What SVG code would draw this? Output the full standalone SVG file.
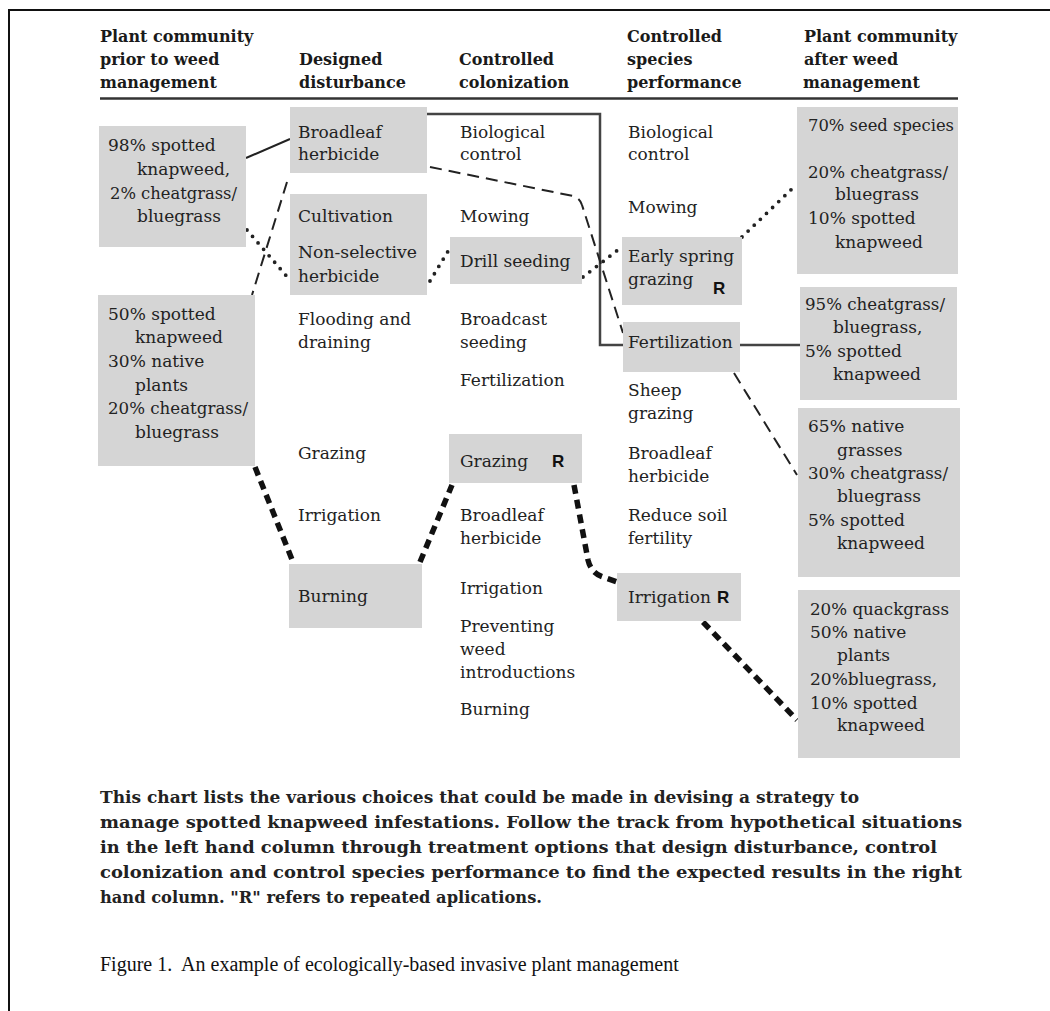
<svg xmlns="http://www.w3.org/2000/svg" width="1050" height="1011" viewBox="0 0 1050 1011">
<style>
  .bg{fill:#ffffff}
  .frame{stroke:#111;stroke-width:2;fill:none}
  .rule{stroke:#333;stroke-width:2.5}
  .box{fill:#d5d5d5}
  .hd{font-family:"DejaVu Serif",serif;font-weight:bold;font-size:16px;fill:#1a1a1a}
  .t{font-family:"DejaVu Serif",serif;font-size:17px;fill:#222}
  .r{font-family:"Liberation Sans",Arial,sans-serif;font-weight:bold;font-size:17px;fill:#111}
  .cap{font-family:"DejaVu Serif",serif;font-weight:bold;font-size:16px;fill:#222}
  .fig{font-family:"Liberation Serif","Times New Roman",serif;font-size:20px;fill:#111;white-space:pre}
  .solid{fill:none;stroke:#222;stroke-width:2}
  .solidg{fill:none;stroke:#444;stroke-width:2.5}
  .dash{fill:none;stroke:#222;stroke-width:2;stroke-dasharray:12 7}
  .dot{fill:none;stroke:#222;stroke-width:3.8;stroke-linecap:round;stroke-dasharray:0 8.5}
  .heavy{fill:none;stroke:#111;stroke-width:5.5;stroke-dasharray:9 6}
</style>
<rect class="bg" x="0" y="0" width="1050" height="1011"/>
<path class="frame" d="M9,1011 V10 H1050"/>

<g id="headers">
  <text class="hd" x="100" y="42">Plant community</text>
  <text class="hd" x="100" y="65">prior to weed</text>
  <text class="hd" x="100" y="88">management</text>
  <text class="hd" x="299" y="65">Designed</text>
  <text class="hd" x="299" y="88">disturbance</text>
  <text class="hd" x="459" y="65">Controlled</text>
  <text class="hd" x="459" y="88">colonization</text>
  <text class="hd" x="627" y="42">Controlled</text>
  <text class="hd" x="627" y="65">species</text>
  <text class="hd" x="627" y="88">performance</text>
  <text class="hd" x="804" y="42">Plant community</text>
  <text class="hd" x="804" y="65">after weed</text>
  <text class="hd" x="803" y="88">management</text>
  <line class="rule" x1="100" y1="98.5" x2="958" y2="98.5"/>
</g>

<g id="connectors">
  <path class="solid" d="M246,158 L290,139"/>
  <path class="solidg" d="M427,114 H600 V345 H623"/>
  <path class="solidg" d="M740,345 H800"/>
  <path class="dash" d="M287,182 L252,295"/>
  <path class="dash" d="M430,167 L573,196 Q580,198 582,205 L623,333"/>
  <path class="dash" d="M734,373 L797,475"/>
  <path class="dot" d="M247,230 L289,279"/>
  <path class="dot" d="M430,281 L450,248"/>
  <path class="dot" d="M583,277 L623,246"/>
  <path class="dot" d="M742,237 L797,184"/>
  <path class="heavy" d="M255,467 L293,562"/>
  <path class="heavy" d="M420,562 L452,485"/>
  <path class="heavy" d="M574,485 L588,560 Q591,573 603,577 L617,582"/>
  <path class="heavy" d="M703,622 L797,720"/>
</g>

<g id="prior-98">
  <rect class="box" x="99" y="126" width="147" height="121"/>
  <text class="t" x="108" y="151">98% spotted</text>
  <text class="t" x="137" y="175">knapweed,</text>
  <text class="t" x="110" y="199" textLength="127" lengthAdjust="spacingAndGlyphs">2% cheatgrass/</text>
  <text class="t" x="137" y="222">bluegrass</text>
</g>
<g id="prior-50">
  <rect class="box" x="98" y="295" width="157" height="171"/>
  <text class="t" x="108" y="320">50% spotted</text>
  <text class="t" x="135" y="343">knapweed</text>
  <text class="t" x="108" y="367">30% native</text>
  <text class="t" x="135" y="391">plants</text>
  <text class="t" x="108" y="414" textLength="140" lengthAdjust="spacingAndGlyphs">20% cheatgrass/</text>
  <text class="t" x="135" y="438">bluegrass</text>
</g>

<g id="dd-broadleaf">
  <rect class="box" x="290" y="107" width="137" height="66"/>
  <text class="t" x="298" y="138">Broadleaf</text>
  <text class="t" x="298" y="160">herbicide</text>
</g>
<g id="dd-cultivation">
  <rect class="box" x="290" y="194" width="137" height="101"/>
  <text class="t" x="298" y="222">Cultivation</text>
  <text class="t" x="298" y="258" textLength="119" lengthAdjust="spacingAndGlyphs">Non-selective</text>
  <text class="t" x="298" y="282">herbicide</text>
</g>
<g id="dd-flooding">
  <text class="t" x="298" y="325">Flooding and</text>
  <text class="t" x="298" y="348">draining</text>
</g>
<g id="dd-grazing"><text class="t" x="298" y="459">Grazing</text></g>
<g id="dd-irrigation"><text class="t" x="298" y="521">Irrigation</text></g>
<g id="dd-burning">
  <rect class="box" x="289" y="564" width="133" height="64"/>
  <text class="t" x="298" y="602">Burning</text>
</g>

<g id="cc-biological">
  <text class="t" x="460" y="138">Biological</text>
  <text class="t" x="460" y="160">control</text>
</g>
<g id="cc-mowing"><text class="t" x="460" y="222">Mowing</text></g>
<g id="cc-drill">
  <rect class="box" x="450" y="237" width="132" height="47"/>
  <text class="t" x="460" y="267">Drill seeding</text>
</g>
<g id="cc-broadcast">
  <text class="t" x="460" y="325">Broadcast</text>
  <text class="t" x="460" y="348">seeding</text>
</g>
<g id="cc-fertilization"><text class="t" x="460" y="386">Fertilization</text></g>
<g id="cc-grazing">
  <rect class="box" x="449" y="434" width="133" height="49"/>
  <text class="t" x="460" y="467">Grazing</text>
  <text class="r" x="552" y="467">R</text>
</g>
<g id="cc-broadleaf">
  <text class="t" x="460" y="521">Broadleaf</text>
  <text class="t" x="460" y="544">herbicide</text>
</g>
<g id="cc-irrigation"><text class="t" x="460" y="594">Irrigation</text></g>
<g id="cc-preventing">
  <text class="t" x="460" y="632">Preventing</text>
  <text class="t" x="460" y="655">weed</text>
  <text class="t" x="460" y="678">introductions</text>
</g>
<g id="cc-burning"><text class="t" x="460" y="715">Burning</text></g>

<g id="sp-biological">
  <text class="t" x="628" y="138">Biological</text>
  <text class="t" x="628" y="160">control</text>
</g>
<g id="sp-mowing"><text class="t" x="628" y="213">Mowing</text></g>
<g id="sp-early">
  <rect class="box" x="622" y="237" width="120" height="68"/>
  <text class="t" x="628" y="262">Early spring</text>
  <text class="t" x="628" y="285">grazing</text>
  <text class="r" x="713" y="294">R</text>
</g>
<g id="sp-fertilization">
  <rect class="box" x="623" y="322" width="117" height="50"/>
  <text class="t" x="628" y="348">Fertilization</text>
</g>
<g id="sp-sheep">
  <text class="t" x="628" y="396">Sheep</text>
  <text class="t" x="628" y="419">grazing</text>
</g>
<g id="sp-broadleaf">
  <text class="t" x="628" y="459">Broadleaf</text>
  <text class="t" x="628" y="482">herbicide</text>
</g>
<g id="sp-reduce">
  <text class="t" x="628" y="521">Reduce soil</text>
  <text class="t" x="628" y="544">fertility</text>
</g>
<g id="sp-irrigation">
  <rect class="box" x="617" y="573" width="124" height="48"/>
  <text class="t" x="628" y="603">Irrigation</text>
  <text class="r" x="717" y="603">R</text>
</g>

<g id="after-70">
  <rect class="box" x="797" y="107" width="161" height="167"/>
  <text class="t" x="808" y="131" textLength="146" lengthAdjust="spacingAndGlyphs">70% seed species</text>
  <text class="t" x="808" y="178" textLength="140" lengthAdjust="spacingAndGlyphs">20% cheatgrass/</text>
  <text class="t" x="835" y="200">bluegrass</text>
  <text class="t" x="808" y="224">10% spotted</text>
  <text class="t" x="835" y="248">knapweed</text>
</g>
<g id="after-95">
  <rect class="box" x="800" y="287" width="157" height="113"/>
  <text class="t" x="805" y="310" textLength="140" lengthAdjust="spacingAndGlyphs">95% cheatgrass/</text>
  <text class="t" x="833" y="333">bluegrass,</text>
  <text class="t" x="805" y="357">5% spotted</text>
  <text class="t" x="833" y="380">knapweed</text>
</g>
<g id="after-65">
  <rect class="box" x="798" y="408" width="162" height="169"/>
  <text class="t" x="808" y="432">65% native</text>
  <text class="t" x="837" y="456">grasses</text>
  <text class="t" x="808" y="479" textLength="140" lengthAdjust="spacingAndGlyphs">30% cheatgrass/</text>
  <text class="t" x="837" y="502">bluegrass</text>
  <text class="t" x="808" y="526">5% spotted</text>
  <text class="t" x="837" y="549">knapweed</text>
</g>
<g id="after-20">
  <rect class="box" x="798" y="590" width="162" height="168"/>
  <text class="t" x="810" y="615" textLength="139" lengthAdjust="spacingAndGlyphs">20% quackgrass</text>
  <text class="t" x="810" y="638">50% native</text>
  <text class="t" x="837" y="661">plants</text>
  <text class="t" x="810" y="685">20%bluegrass,</text>
  <text class="t" x="810" y="709">10% spotted</text>
  <text class="t" x="837" y="731">knapweed</text>
</g>

<g id="caption">
  <text class="cap" x="100" y="803" textLength="759" lengthAdjust="spacingAndGlyphs">This chart lists the various choices that could be made in devising a strategy to</text>
  <text class="cap" x="100" y="828" textLength="862" lengthAdjust="spacingAndGlyphs">manage spotted knapweed infestations. Follow the track from hypothetical situations</text>
  <text class="cap" x="100" y="853" textLength="837" lengthAdjust="spacingAndGlyphs">in the left hand column through treatment options that design disturbance, control</text>
  <text class="cap" x="100" y="878" textLength="862" lengthAdjust="spacingAndGlyphs">colonization and control species performance to find the expected results in the right</text>
  <text class="cap" x="100" y="903" textLength="442" lengthAdjust="spacingAndGlyphs">hand column. "R" refers to repeated aplications.</text>
</g>
<g id="figure-title">
  <text class="fig" x="100" y="971">Figure 1.  An example of ecologically-based invasive plant management</text>
</g>
</svg>
